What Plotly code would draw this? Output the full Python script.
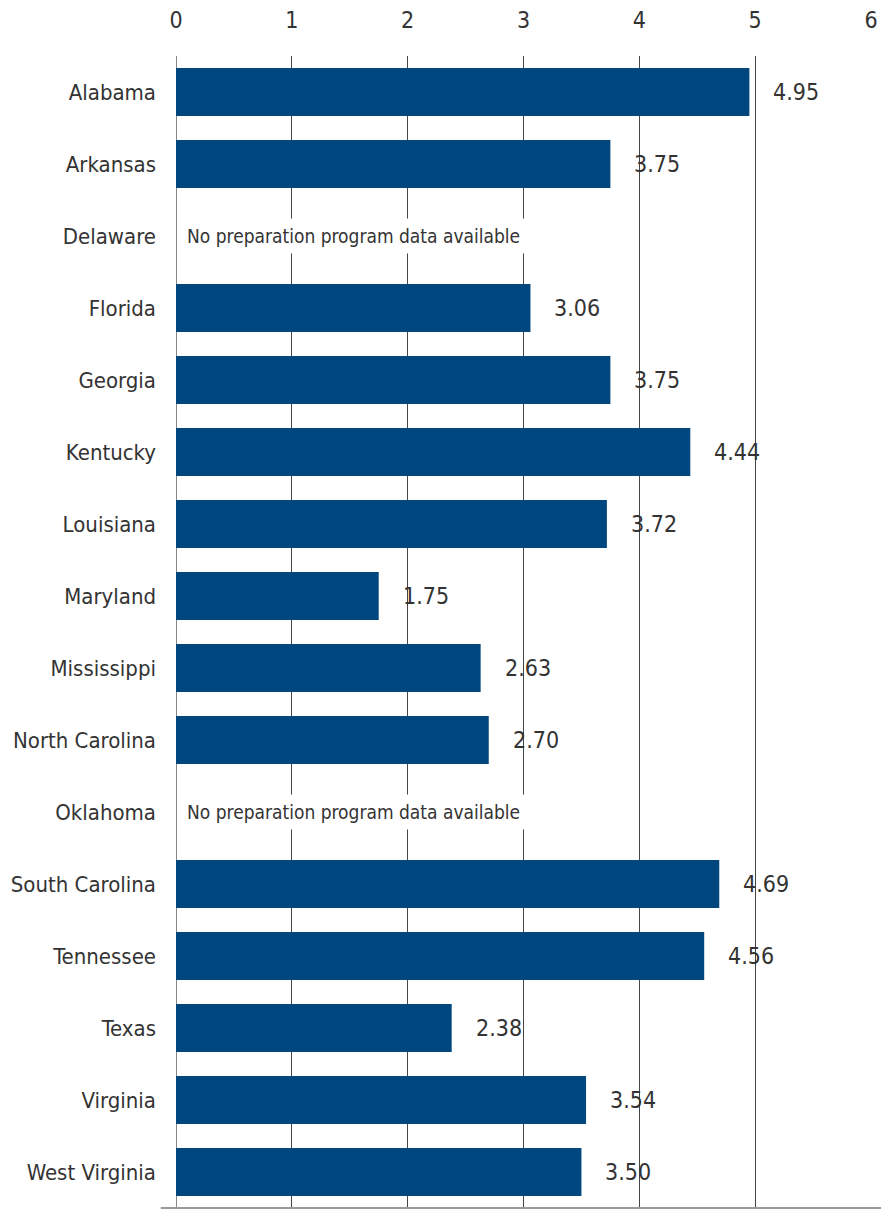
import plotly.graph_objects as go

states = ["Alabama", "Arkansas", "Delaware", "Florida", "Georgia", "Kentucky",
          "Louisiana", "Maryland", "Mississippi", "North Carolina", "Oklahoma",
          "South Carolina", "Tennessee", "Texas", "Virginia", "West Virginia"]
values = [4.95, 3.75, None, 3.06, 3.75, 4.44, 3.72, 1.75, 2.63, 2.70, None,
          4.69, 4.56, 2.38, 3.54, 3.50]
x_ticks = [0, 1, 2, 3, 4, 5, 6]
no_data_text = "No preparation program data available"

FONT = "Liberation Sans Narrow, DejaVu Sans Condensed, Arial Narrow, sans-serif"
TXT = "#333333"
BAR = "#00467F"

fig = go.Figure()
fig.add_trace(go.Bar(
    y=states, x=[v if v is not None else 0 for v in values],
    orientation="h", marker=dict(color=BAR, line=dict(width=0)),
    width=0.667, hoverinfo="skip",
))

annotations = []
for s, v in zip(states, values):
    if v is None:
        annotations.append(dict(
            x=0, y=s, xref="x", yref="y", text=no_data_text, showarrow=False,
            xanchor="left", yanchor="middle", xshift=4, bgcolor="white",
            borderpad=6, font=dict(family=FONT, size=19, color=TXT)))
    else:
        annotations.append(dict(
            x=v, y=s, xref="x", yref="y", text=f"{v:.2f}", showarrow=False,
            xanchor="left", yanchor="middle", xshift=22,
            font=dict(family=FONT, size=23, color=TXT)))

fig.update_layout(
    width=881, height=1211,
    margin=dict(l=176, r=10, t=56, b=3),
    paper_bgcolor="white", plot_bgcolor="white",
    showlegend=False,
    font=dict(family=FONT, size=23, color=TXT),
    annotations=annotations,
    bargap=0.333,
    xaxis=dict(side="top", range=[0, 6], tickvals=x_ticks,
               ticktext=[str(t) for t in x_ticks],
               showgrid=True, gridcolor="#444444", gridwidth=1,
               zeroline=True, zerolinecolor="#888888", zerolinewidth=1,
               showline=False, ticks="", ticklabelstandoff=22,
               tickfont=dict(family=FONT, size=23, color=TXT)),
    yaxis=dict(autorange="reversed", showgrid=False, zeroline=False,
               showline=False, ticks="", ticklabelstandoff=19,
               tickfont=dict(family=FONT, size=22, color=TXT)),
    shapes=[dict(type="line", xref="paper", yref="paper", x0=-0.022, x1=1.02,
                 y0=0.0, y1=0.0, line=dict(color="#999999", width=2))],
)

fig.write_html("out.html")
